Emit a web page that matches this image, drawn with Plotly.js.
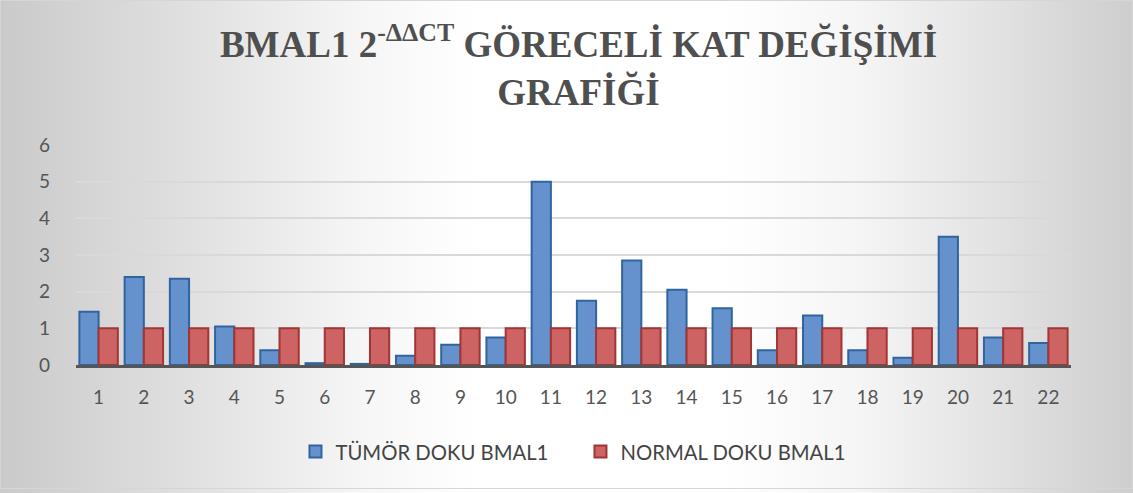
<!DOCTYPE html>
<html>
<head>
<meta charset="utf-8">
<script src="https://cdn.plot.ly/plotly-3.0.1.min.js"></script>
<style>
  html, body { margin: 0; padding: 0; background: #ffffff; }
  #wrap { position: relative; width: 1133px; height: 493px; }
  #chart {
    width: 1133px; height: 493px;
    background: linear-gradient(to right, #cacaca 0%, #e2e2e2 18%, #f6f6f6 32%, #ffffff 42%, #ffffff 64%, #f5f5f5 76%, #e2e2e2 88%, #cecece 100%);
  }
  #frame { position: absolute; left: 0; top: 0; width: 1131px; height: 487px; border: 1px solid #d6d6d6; pointer-events: none; }
</style>
</head>
<body>
<div id="wrap">
  <div id="chart"></div>
  <div id="frame"></div>
</div>
<script>
const categories = ["1","2","3","4","5","6","7","8","9","10","11","12","13","14","15","16","17","18","19","20","21","22"];
const tumorValues = [1.45, 2.4, 2.35, 1.05, 0.4, 0.05, 0.03, 0.25, 0.55, 0.75, 5.0, 1.75, 2.85, 2.05, 1.55, 0.4, 1.35, 0.4, 0.2, 3.5, 0.75, 0.6];
const normalValues = [1, 1, 1, 1, 1, 1, 1, 1, 1, 1, 1, 1, 1, 1, 1, 1, 1, 1, 1, 1, 1, 1];
const seriesNames = ["TÜMÖR DOKU BMAL1", "NORMAL DOKU BMAL1"];
const yTicks = [0, 1, 2, 3, 4, 5, 6];

const traces = [
  {
    type: "bar", name: seriesNames[0], x: categories, y: tumorValues,
    marker: { color: "#6592cc", line: { color: "#30649f", width: 2 } }
  },
  {
    type: "bar", name: seriesNames[1], x: categories, y: normalValues,
    marker: { color: "#cd6362", line: { color: "#a23535", width: 2 } }
  }
];

const layout = {
  width: 1133, height: 493,
  paper_bgcolor: "rgba(0,0,0,0)",
  plot_bgcolor: "rgba(0,0,0,0)",
  margin: { l: 76, r: 62, t: 145, b: 128 },
  title: {
    text: "BMAL1 2<sup>-ΔΔCT</sup> GÖRECELİ KAT DEĞİŞİMİ<br>GRAFİĞİ",
    font: { family: "Liberation Serif, Times New Roman, serif", size: 37, color: "#4f4f4f", weight: "bold" },
    x: 0.505, xanchor: "center", xref: "paper", yref: "container", y: 0.885, yanchor: "top"
  },
  barmode: "group",
  bargap: 0.15,
  bargroupgap: 0.0,
  xaxis: {
    type: "category",
    tickvals: categories, ticktext: categories,
    showgrid: false, zeroline: false,
    showline: true, linecolor: "#555555", linewidth: 3,
    ticks: "", ticklabelstandoff: 13,
    tickfont: { family: "Lato, Calibri, sans-serif", size: 19, color: "#555555" }
  },
  yaxis: {
    range: [0, 6], tickvals: yTicks, ticktext: yTicks.map(String),
    showgrid: true, gridcolor: "#d9d9d9", gridwidth: 2,
    zeroline: false, showline: false, ticks: "", ticklabelstandoff: 25,
    tickfont: { family: "Lato, Calibri, sans-serif", size: 19, color: "#555555" }
  },
  showlegend: true,
  legend: {
    orientation: "h", x: 0.507, xanchor: "center", y: -0.395, yanchor: "middle",
    font: { family: "Lato, Calibri, sans-serif", size: 20.3, color: "#444444" },
    bgcolor: "rgba(0,0,0,0)", itemwidth: 30, traceorder: "normal",
    entrywidth: 240, entrywidthmode: "pixels"
  }
};

Plotly.newPlot("chart", traces, layout, { displayModeBar: false, staticPlot: true });
</script>
</body>
</html>
